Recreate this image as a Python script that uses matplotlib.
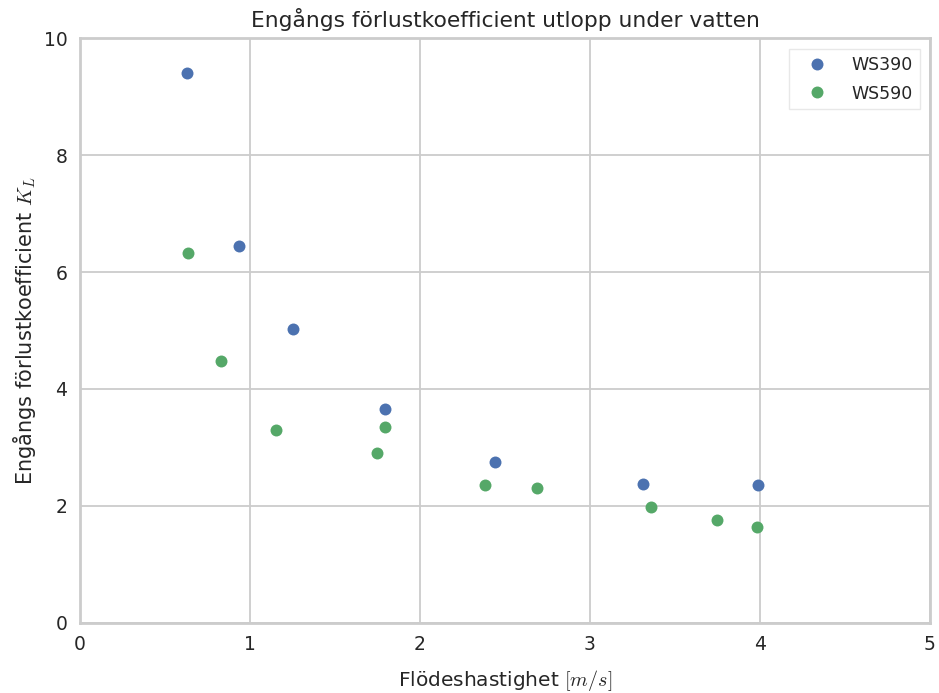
import matplotlib
matplotlib.use("Agg")
import matplotlib.pyplot as plt

plt.rcParams["font.family"] = ["DejaVu Sans"]
plt.rcParams["mathtext.fontset"] = "cm"

BLUE = "#4C72B0"
GREEN = "#55A868"
GRID = "#cccccc"
TEXT = "#262626"

# ---- data -----------------------------------------------------------------
ws390_v = [0.627, 0.933, 1.253, 1.794, 2.441, 3.310, 3.988]
ws390_k = [9.41, 6.44, 5.03, 3.66, 2.75, 2.37, 2.36]

ws590_v = [0.633, 0.827, 1.155, 1.745, 1.796, 2.384, 2.686, 3.359, 3.749, 3.982]
ws590_k = [6.33, 4.47, 3.29, 2.91, 3.35, 2.36, 2.31, 1.98, 1.75, 1.64]

xticks = [0, 1, 2, 3, 4, 5]
yticks = [0, 2, 4, 6, 8, 10]

fig = plt.figure(figsize=(9.39, 6.93), dpi=100)
ax = fig.add_axes([0.0852, 0.1017, 0.9052, 0.843])

ax.plot(ws390_v, ws390_k, "o", ls="none", color=BLUE, ms=8.6, mew=0,
        label="WS390")
ax.plot(ws590_v, ws590_k, "o", ls="none", color=GREEN, ms=8.6, mew=0,
        label="WS590")

ax.set_xlim(0, 5)
ax.set_ylim(0, 10)
ax.set_xticks(xticks)
ax.set_yticks(yticks)
ax.grid(True, color=GRID, lw=1.3)
ax.set_axisbelow(True)
for s in ax.spines.values():
    s.set_color(GRID)
    s.set_linewidth(2)
ax.tick_params(length=0, labelsize=13.5, labelcolor=TEXT, pad=9)

ax.set_title("Engångs förlustkoefficient utlopp under vatten",
             fontsize=15.7, color=TEXT, pad=8)
ax.set_xlabel("Flödeshastighet $[m/s]$", fontsize=14.5, color=TEXT,
              labelpad=10)
ax.set_ylabel("Engångs förlustkoefficient $K_L$", fontsize=15, color=TEXT,
              labelpad=4)

leg = ax.legend(loc="upper right", fontsize=12.5, numpoints=1, frameon=True,
                fancybox=False, handlelength=2.4, handletextpad=0.8,
                borderpad=0.4, labelspacing=0.62, borderaxespad=0,
                bbox_to_anchor=(0.988, 0.982))
leg.get_frame().set_edgecolor("#e3e3e3")
leg.get_frame().set_linewidth(1)
for t in leg.get_texts():
    t.set_color(TEXT)

fig.savefig("out.png", dpi=100)
